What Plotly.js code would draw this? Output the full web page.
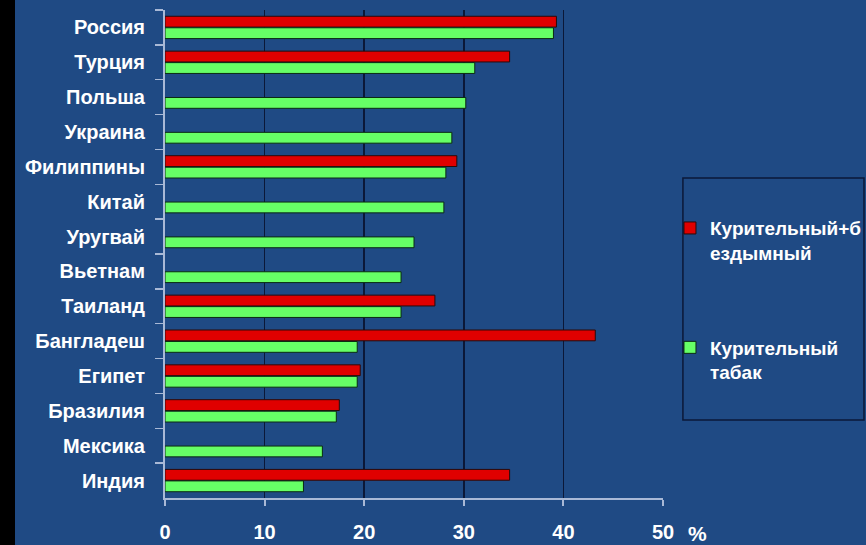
<!DOCTYPE html>
<html>
<head>
<meta charset="utf-8">
<script src="https://cdn.plot.ly/plotly-3.0.1.min.js"></script>
<style>
html,body{margin:0;padding:0;background:#000;}
#chart{position:absolute;left:15px;top:0;width:851px;height:545px;}
</style>
</head>
<body>
<div id="chart"></div>
<script>
const countries = ["Россия","Турция","Польша","Украина","Филиппины","Китай","Уругвай","Вьетнам","Таиланд","Бангладеш","Египет","Бразилия","Мексика","Индия"];
const smokelessPlus = [39.3, 34.6, null, null, 29.3, null, null, null, 27.1, 43.2, 19.6, 17.5, null, 34.6];
const smoking = [39.0, 31.1, 30.2, 28.8, 28.2, 28.0, 25.0, 23.7, 23.7, 19.3, 19.3, 17.2, 15.8, 13.9];
const seriesNames = ["Курительный+б<br>ездымный", "Курительный<br>табак"];
const xTicks = [0, 10, 20, 30, 40, 50];

const FONT = 'Arial, "Liberation Sans", sans-serif';
const BG = '#1f4a84';

const traces = [
  {type:'bar', orientation:'h', name:seriesNames[0], y:countries, x:smokelessPlus,
   legendgroup:'a', marker:{color:'#e00000', line:{color:'#2a0a0a', width:1}}, hoverinfo:'x+y'},
  {type:'bar', orientation:'h', name:seriesNames[1], y:countries, x:smoking,
   legendgroup:'b', marker:{color:'#66ff66', line:{color:'#0a2a12', width:1}}, hoverinfo:'x+y'}
];

const layout = {
  width:851, height:545,
  margin:{l:150, r:203, t:10, b:47, autoexpand:false},
  paper_bgcolor:BG, plot_bgcolor:BG,
  font:{family:FONT, color:'#ffffff'},
  barmode:'group', bargap:0.34, bargroupgap:0.06,
  xaxis:{range:[0,50], tickvals:xTicks, ticktext:xTicks.map(String),
         showgrid:true, gridcolor:'#0b1838', gridwidth:1.5,
         showline:true, linecolor:'#a9b9d6', linewidth:2,
         ticks:'outside', ticklen:6, tickcolor:'#a9b9d6', tickwidth:2,
         ticklabelstandoff:9, tickfont:{size:20, color:'#ffffff', family:FONT, weight:'bold'},
         zeroline:false, fixedrange:true, automargin:false},
  yaxis:{categoryorder:'array', categoryarray:countries, autorange:'reversed',
         showline:true, linecolor:'#a9b9d6', linewidth:2,
         ticks:'outside', ticklen:8, tickcolor:'#a9b9d6', tickwidth:1.5, tickson:'boundaries',
         ticklabelstandoff:14, tickfont:{size:20, color:'#ffffff', family:FONT, weight:'bold'},
         showgrid:false, zeroline:false, fixedrange:true, automargin:false},
  showlegend:true,
  legend:{x:1.014, xanchor:'left', y:0.592, yanchor:'top', bgcolor:'rgba(0,0,0,0)',
          borderwidth:0, traceorder:'grouped', tracegroupgap:67, valign:'top',
          font:{size:19, color:'#ffffff', family:FONT, weight:'bold'}},
  shapes:[
    {type:'rect', xref:'paper', yref:'paper', x0:1.040, x1:1.4036, y0:0.1598, y1:0.6557,
     line:{color:'#0b1838', width:1.5}, fillcolor:'rgba(0,0,0,0)'}
  ],
  annotations:[
    {xref:'paper', yref:'paper', x:1.070, y:-0.072, text:'%', showarrow:false,
     font:{size:21, color:'#ffffff', family:FONT, weight:'bold'}, xanchor:'center', yanchor:'middle'}
  ]
};

Plotly.newPlot('chart', traces, layout, {displayModeBar:false, staticPlot:true});
</script>
</body>
</html>
